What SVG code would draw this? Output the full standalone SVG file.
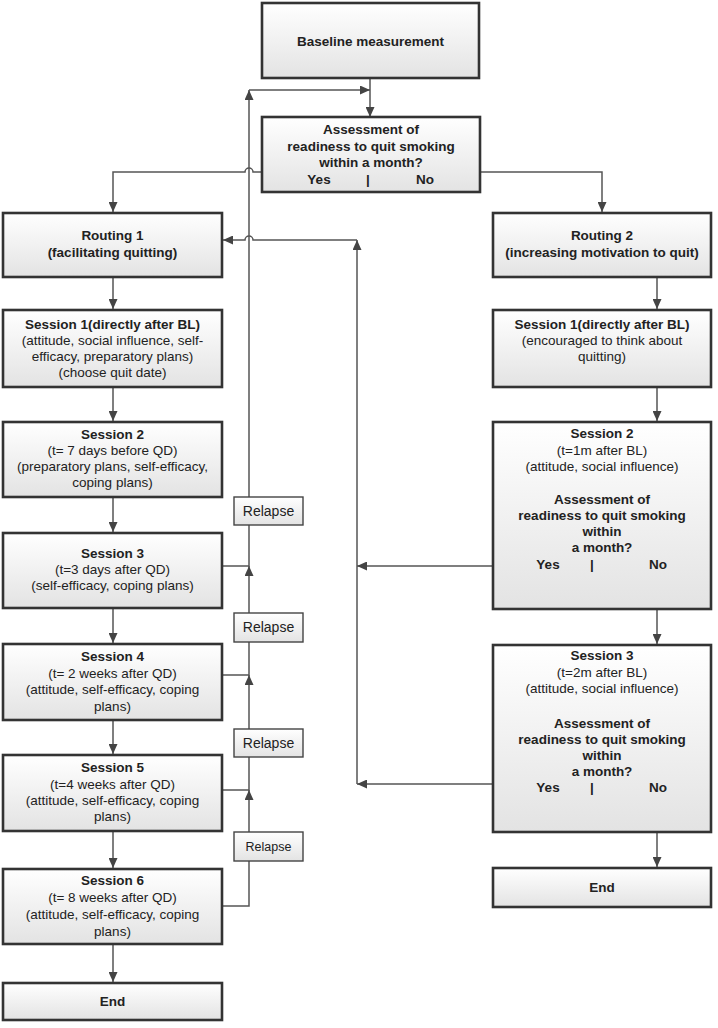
<svg xmlns="http://www.w3.org/2000/svg" width="718" height="1028" viewBox="0 0 718 1028">
<defs>
<linearGradient id="g" x1="0" y1="0" x2="0" y2="1">
<stop offset="0" stop-color="#ffffff"/>
<stop offset="1" stop-color="#e3e3e3"/>
</linearGradient>
<marker id="ah" viewBox="0 0 10 9" markerWidth="10" markerHeight="9" refX="10" refY="4.5" orient="auto" markerUnits="userSpaceOnUse">
<path d="M0,0 L10,4.5 L0,9 z" fill="#444"/>
</marker>
</defs>
<style>
.box{fill:url(#g);stroke:#333;stroke-width:2.6}
.rl{fill:url(#g);stroke:#444;stroke-width:1.4}
text{font-family:"Liberation Sans",Arial,sans-serif;font-size:13.5px;fill:#222;text-anchor:middle}
.b{font-weight:bold}
.ln{fill:none;stroke:#555;stroke-width:1.5}
.ar{fill:none;stroke:#555;stroke-width:1.5;marker-end:url(#ah)}
</style>
<rect width="718" height="1028" fill="#ffffff"/>

<g id="connectors">
<path class="ar" d="M370,78 V117"/>
<path class="ar" d="M249,497 V90"/>
<path class="ar" d="M249,90 H370"/>
<path class="ar" d="M262,172 H253 A4,4 0 0 0 245,172 H113 V212"/>
<path class="ar" d="M480,172 H602 V212"/>
<path class="ar" d="M357,784 V240"/>
<path class="ar" d="M357,240 H253 A4,4 0 0 0 245,240 H223"/>
<path class="ar" d="M113,277 V309"/>
<path class="ar" d="M657,277 V309"/>
<path class="ar" d="M113,387 V421"/>
<path class="ar" d="M657,387 V421"/>
<path class="ar" d="M113,497 V532"/>
<path class="ar" d="M113,608 V643"/>
<path class="ar" d="M113,720 V754"/>
<path class="ar" d="M113,831 V868"/>
<path class="ar" d="M113,944 V982"/>
<path class="ar" d="M657,609 V644"/>
<path class="ar" d="M657,832 V867"/>
<path class="ar" d="M493,566 H357"/>
<path class="ar" d="M493,784 H357"/>
<path class="ln" d="M222,566 H249 V525"/>
<path class="ar" d="M249,613 V566"/>
<path class="ln" d="M222,675 H249 V642"/>
<path class="ar" d="M249,729 V675"/>
<path class="ln" d="M222,790 H249 V757"/>
<path class="ar" d="M249,832 V790"/>
<path class="ln" d="M222,906 H249 V861"/>
</g>

<g id="baseline">
<rect class="box" x="262" y="3" width="217" height="75"/>
<text class="b" x="370.5" y="46">Baseline measurement</text>
</g>

<g id="assessment">
<rect class="box" x="262" y="117" width="218" height="75"/>
<text class="b" x="371" y="134">Assessment of</text>
<text class="b" x="371" y="151">readiness to quit smoking</text>
<text class="b" x="371" y="167">within a month?</text>
<text class="b" x="319" y="184">Yes</text>
<text class="b" x="368" y="184">|</text>
<text class="b" x="425" y="184">No</text>
</g>

<g id="routing1">
<rect class="box" x="3" y="213" width="219" height="64"/>
<text class="b" x="112.5" y="240">Routing 1</text>
<text class="b" x="112.5" y="257">(facilitating quitting)</text>
</g>

<g id="routing2">
<rect class="box" x="493" y="213" width="218" height="64"/>
<text class="b" x="602" y="240">Routing 2</text>
<text class="b" x="602" y="257">(increasing motivation to quit)</text>
</g>

<g id="session1-left">
<rect class="box" x="3" y="310" width="219" height="77"/>
<text class="b" x="112.5" y="329">Session 1(directly after BL)</text>
<text x="112.5" y="345">(attitude, social influence, self-</text>
<text x="112.5" y="361">efficacy, preparatory plans)</text>
<text x="112.5" y="377">(choose quit date)</text>
</g>

<g id="session1-right">
<rect class="box" x="493" y="310" width="218" height="77"/>
<text class="b" x="602" y="329">Session 1(directly after BL)</text>
<text x="602" y="345">(encouraged to think about</text>
<text x="602" y="361">quitting)</text>
</g>

<g id="session2-left">
<rect class="box" x="3" y="422" width="219" height="75"/>
<text class="b" x="112.5" y="439">Session 2</text>
<text x="112.5" y="455">(t= 7 days before QD)</text>
<text x="112.5" y="471">(preparatory plans, self-efficacy,</text>
<text x="112.5" y="487">coping plans)</text>
</g>

<g id="session3-left">
<rect class="box" x="3" y="533" width="219" height="75"/>
<text class="b" x="112.5" y="558">Session 3</text>
<text x="112.5" y="574">(t=3 days after QD)</text>
<text x="112.5" y="590">(self-efficacy, coping plans)</text>
</g>

<g id="session4-left">
<rect class="box" x="3" y="644" width="219" height="76"/>
<text class="b" x="112.5" y="661">Session 4</text>
<text x="112.5" y="678">(t= 2 weeks after QD)</text>
<text x="112.5" y="694">(attitude, self-efficacy, coping</text>
<text x="112.5" y="711">plans)</text>
</g>

<g id="session5-left">
<rect class="box" x="3" y="755" width="219" height="76"/>
<text class="b" x="112.5" y="772">Session 5</text>
<text x="112.5" y="789">(t=4 weeks after QD)</text>
<text x="112.5" y="805">(attitude, self-efficacy, coping</text>
<text x="112.5" y="821">plans)</text>
</g>

<g id="session6-left">
<rect class="box" x="3" y="869" width="219" height="75"/>
<text class="b" x="112.5" y="885">Session 6</text>
<text x="112.5" y="902">(t= 8 weeks after QD)</text>
<text x="112.5" y="919">(attitude, self-efficacy, coping</text>
<text x="112.5" y="936">plans)</text>
</g>

<g id="end-left">
<rect class="box" x="3" y="983" width="219" height="37"/>
<text class="b" x="112.5" y="1006">End</text>
</g>

<g id="session2-right">
<rect class="box" x="493" y="422" width="218" height="187"/>
<text class="b" x="602" y="438">Session 2</text>
<text x="602" y="455">(t=1m after BL)</text>
<text x="602" y="471">(attitude, social influence)</text>
<text class="b" x="602" y="504">Assessment of</text>
<text class="b" x="602" y="520">readiness to quit smoking</text>
<text class="b" x="602" y="536">within</text>
<text class="b" x="602" y="552">a month?</text>
<text class="b" x="548" y="569">Yes</text>
<text class="b" x="592" y="569">|</text>
<text class="b" x="658" y="569">No</text>
</g>

<g id="session3-right">
<rect class="box" x="493" y="645" width="218" height="187"/>
<text class="b" x="602" y="660">Session 3</text>
<text x="602" y="677">(t=2m after BL)</text>
<text x="602" y="693">(attitude, social influence)</text>
<text class="b" x="602" y="728">Assessment of</text>
<text class="b" x="602" y="744">readiness to quit smoking</text>
<text class="b" x="602" y="760">within</text>
<text class="b" x="602" y="776">a month?</text>
<text class="b" x="548" y="792">Yes</text>
<text class="b" x="592" y="792">|</text>
<text class="b" x="658" y="792">No</text>
</g>

<g id="end-right">
<rect class="box" x="493" y="868" width="218" height="39"/>
<text class="b" x="602" y="892">End</text>
</g>

<g id="relapse1">
<rect class="rl" x="234" y="497" width="69" height="28"/>
<text x="268.5" y="516" style="font-size:14px">Relapse</text>
</g>
<g id="relapse2">
<rect class="rl" x="234" y="613" width="69" height="29"/>
<text x="268.5" y="632" style="font-size:14px">Relapse</text>
</g>
<g id="relapse3">
<rect class="rl" x="234" y="729" width="69" height="28"/>
<text x="268.5" y="748" style="font-size:14px">Relapse</text>
</g>
<g id="relapse4">
<rect class="rl" x="234" y="832" width="69" height="29"/>
<text x="268.5" y="851" style="font-size:12.5px">Relapse</text>
</g>
</svg>
